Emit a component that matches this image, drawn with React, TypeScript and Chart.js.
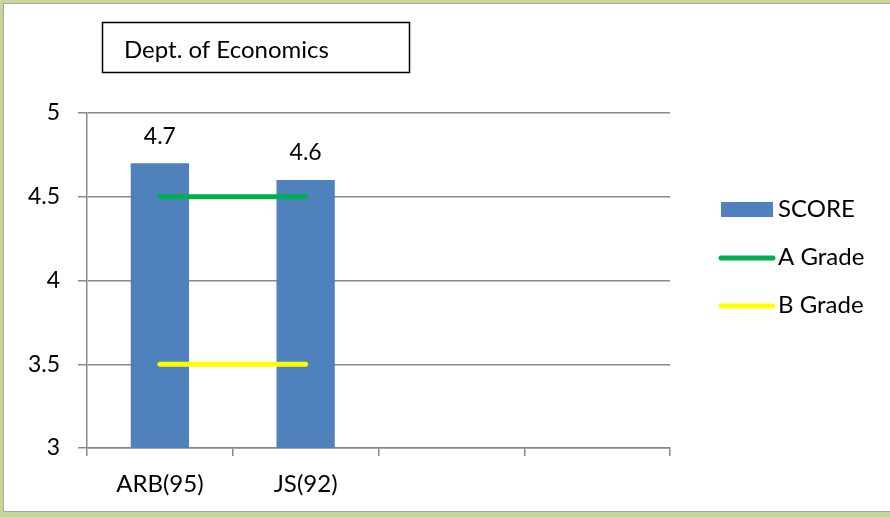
import React, { useEffect, useRef } from "react";
import { Chart, registerables } from "chart.js";

Chart.register(...registerables);

const categories = ["ARB(95)", "JS(92)", "", ""];
const scoreValues = [4.7, 4.6, null, null];
const aGradeValues = [4.5, 4.5, null, null];
const bGradeValues = [3.5, 3.5, null, null];
const yTicks = [3, 3.5, 4, 4.5, 5];
const titleText = "Dept. of Economics";

const FONT = "Lato, 'Open Sans', sans-serif";
const BLUE = "#4f81bd";
const GREEN = "#00b050";
const YELLOW = "#ffff00";
const GREY = "#898989";

const overlayPlugin = {
  id: "overlay",
  afterDatasetsDraw(chart: any) {
    const ctx = chart.ctx;
    ctx.save();
    // data labels
    const meta = chart.getDatasetMeta(0);
    ctx.font = `23px ${FONT}`;
    ctx.fillStyle = "#000";
    ctx.textAlign = "center";
    ctx.textBaseline = "middle";
    meta.data.forEach((el: any, i: number) => {
      const v = scoreValues[i];
      if (v == null) return;
      ctx.fillText(String(v), el.x, el.y - 27);
    });
    // title box
    ctx.lineWidth = 1.5;
    ctx.strokeStyle = "#000";
    ctx.strokeRect(102.5, 22.5, 307, 50);
    ctx.textAlign = "left";
    ctx.font = `24px ${FONT}`;
    ctx.fillText(titleText, 124, 50);
    // legend
    const items = chart.data.datasets;
    const ys = [210, 258, 306];
    items.forEach((ds: any, i: number) => {
      const y = ys[i];
      if (ds.type === "line") {
        ctx.beginPath();
        ctx.lineCap = "round";
        ctx.lineWidth = 5;
        ctx.strokeStyle = ds.borderColor;
        ctx.moveTo(721, y);
        ctx.lineTo(773, y);
        ctx.stroke();
      } else {
        ctx.fillStyle = ds.backgroundColor;
        ctx.fillRect(721, y - 8, 52, 15);
      }
      ctx.fillStyle = "#000";
      ctx.textAlign = "left";
      ctx.fillText(ds.label, 778, y - 1);
    });
    ctx.restore();
  },
};

export default function App() {
  const ref = useRef<HTMLCanvasElement>(null);
  useEffect(() => {
    if (!ref.current) return;
    const chart = new Chart(ref.current, {
      type: "bar",
      data: {
        labels: categories,
        datasets: [
          {
            type: "bar",
            label: "SCORE",
            data: scoreValues as any,
            backgroundColor: BLUE,
            barPercentage: 0.4,
            categoryPercentage: 1,
            order: 2,
          },
          {
            type: "line",
            label: "A Grade",
            data: aGradeValues as any,
            borderColor: GREEN,
            backgroundColor: GREEN,
            borderWidth: 5,
            borderCapStyle: "round",
            pointRadius: 0,
            order: 1,
          },
          {
            type: "line",
            label: "B Grade",
            data: bGradeValues as any,
            borderColor: YELLOW,
            backgroundColor: YELLOW,
            borderWidth: 5,
            borderCapStyle: "round",
            pointRadius: 0,
            order: 1,
          },
        ] as any,
      },
      options: {
        animation: false,
        responsive: false,
        layout: { padding: { top: 113, right: 220, left: 0, bottom: 0 } },
        plugins: { legend: { display: false }, tooltip: { enabled: false } },
        scales: {
          x: {
            offset: true,
            grid: {
              offset: true,
              drawOnChartArea: false,
              drawTicks: true,
              tickLength: 8,
              color: GREY,
              lineWidth: 1.5,
            },
            border: { color: GREY, width: 1.5 },
            ticks: { color: "#000", font: { family: FONT, size: 24 }, padding: 14, maxRotation: 0 },
            afterFit: (s: any) => {
              s.height = 69;
            },
          },
          y: {
            min: 3,
            max: 5,
            afterBuildTicks: (s: any) => {
              s.ticks = yTicks.map((v) => ({ value: v }));
            },
            grid: { color: GREY, lineWidth: 1.5, tickLength: 9 },
            border: { color: GREY, width: 1.5 },
            ticks: {
              color: "#000",
              font: { family: FONT, size: 23 },
              padding: 18,
              callback: (v: any) => String(Number(v)),
            },
            afterFit: (s: any) => {
              s.width = 87;
            },
          },
        },
      },
      plugins: [overlayPlugin],
    });
    return () => chart.destroy();
  }, []);
  return (
    <div style={{ position: "absolute", left: 0, top: 0, width: 890, height: 517, background: "#c4d79b", overflow: "hidden" }}>
      <div
        style={{
          position: "absolute",
          left: 3,
          top: 3,
          width: 900,
          height: 507,
          border: "1.5px solid #a6a6a6",
          background: "#fff",
        }}
      />
      <canvas ref={ref} width={890} height={517} style={{ position: "absolute", left: 0, top: 0 }} />
    </div>
  );
}
